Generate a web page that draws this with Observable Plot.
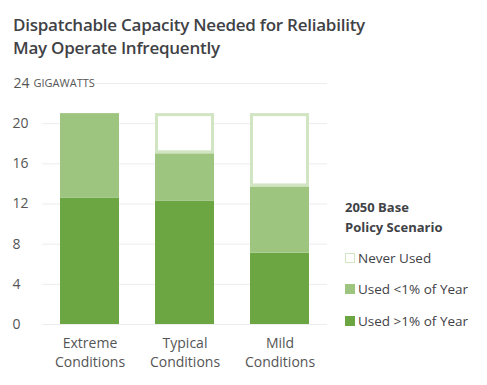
<!DOCTYPE html>
<html>
<head>
<meta charset="utf-8">
<script src="https://cdn.jsdelivr.net/npm/d3@7"></script>
<script src="https://cdn.jsdelivr.net/npm/@observablehq/plot@0.6"></script>
<style>
  body { margin: 0; background: #fff; font-family: "Open Sans", sans-serif; }
  #wrap { position: relative; width: 487px; height: 385px; overflow: hidden; }
  #title { position: absolute; left: 13px; top: 14px; font-size: 17px; font-weight: 600; color: #3f4246; line-height: 22.5px; letter-spacing: -0.25px; }
  #legend { position: absolute; left: 345px; top: 197px; color: #3f4246; font-size: 13.5px; }
  #legend .lt { font-weight: 700; line-height: 20px; margin-bottom: 5px; font-size: 13px; }
  #legend .it { display: flex; align-items: center; height: 31.5px; }
  #legend .sw { width: 10px; height: 10px; margin-right: 3px; box-sizing: border-box; }
</style>
</head>
<body>
<div id="wrap">
  <div id="title">Dispatchable Capacity Needed for Reliability<br>May Operate Infrequently</div>
  <div id="chart"></div>
  <div id="legend"></div>
</div>
<script>
const categories = ["Extreme Conditions", "Typical Conditions", "Mild Conditions"];
const seriesNames = ["Used >1% of Year", "Used <1% of Year", "Never Used"];
const usedOver1 = [12.6, 12.3, 7.1];
const usedUnder1 = [8.4, 4.7, 6.6];
const neverUsed = [0, 4.0, 7.3];
const yTicks = [0, 4, 8, 12, 16, 20];
const yMax = 24;
const legendTitle = ["2050 Base", "Policy Scenario"];

const colors = {"Used >1% of Year": "#6ba643", "Used <1% of Year": "#9ec57f", "Never Used": "#ffffff"};
const neverStroke = "#d2e5c3";

const rows = [];
categories.forEach((c, i) => {
  rows.push({cat: c, series: seriesNames[0], value: usedOver1[i]});
  rows.push({cat: c, series: seriesNames[1], value: usedUnder1[i]});
  rows.push({cat: c, series: seriesNames[2], value: neverUsed[i]});
});
const filled = rows.filter(d => d.series !== "Never Used");
const never = rows.filter(d => d.series === "Never Used" && d.value > 0);

const plot = Plot.plot({
  width: 487,
  height: 385,
  marginTop: 83,
  marginBottom: 61,
  marginLeft: 42,
  marginRight: 160,
  style: {fontFamily: "Open Sans, sans-serif", color: "#555", background: "transparent"},
  x: {domain: categories, paddingInner: 0.38, paddingOuter: 0.19, axis: null},
  y: {domain: [0, yMax], axis: null},
  color: {domain: seriesNames, range: seriesNames.map(s => colors[s])},
  marks: [
    Plot.ruleY(yTicks, {stroke: "#ececec", strokeWidth: 1}),
    Plot.ruleY([yMax], {insetLeft: 53, stroke: "#ececec"}),
    Plot.text(yTicks, {y: d => d, text: d => String(d), frameAnchor: "left", dx: -30, textAnchor: "start", fontSize: 14, fill: "#555"}),
    Plot.text([yMax], {y: d => d, text: d => String(d), frameAnchor: "left", dx: -29, textAnchor: "start", fontSize: 14, fill: "#555"}),
    Plot.text(["GIGAWATTS"], {y: [yMax], text: d => d, frameAnchor: "left", dx: -9, textAnchor: "start", fontSize: 11, fill: "#555"}),
    Plot.barY(filled, Plot.stackY({x: "cat", y: "value", fill: "series", order: seriesNames})),
    Plot.barY(never, {
      x: "cat",
      y1: (d) => { const i = categories.indexOf(d.cat); return usedOver1[i] + usedUnder1[i]; },
      y2: (d) => { const i = categories.indexOf(d.cat); return usedOver1[i] + usedUnder1[i] + d.value; },
      fill: "#fff", stroke: neverStroke, strokeWidth: 3, inset: 1.5
    }),
    Plot.text(categories, {x: d => d, text: d => d.replace(" ", "\n"), frameAnchor: "bottom", dy: 10, lineHeight: 1.35, textAnchor: "middle", lineAnchor: "top", fontSize: 14, fill: "#555"})
  ]
});
document.getElementById("chart").appendChild(plot);

// legend
const leg = document.getElementById("legend");
leg.innerHTML = `<div class="lt">${legendTitle.join("<br>")}</div>` +
  seriesNames.slice().reverse().map(s => {
    const border = s === "Never Used" ? `border:1.5px solid ${neverStroke};` : "";
    return `<div class="it"><div class="sw" style="background:${colors[s]};${border}"></div>${s}</div>`;
  }).join("");
</script>
</body>
</html>
